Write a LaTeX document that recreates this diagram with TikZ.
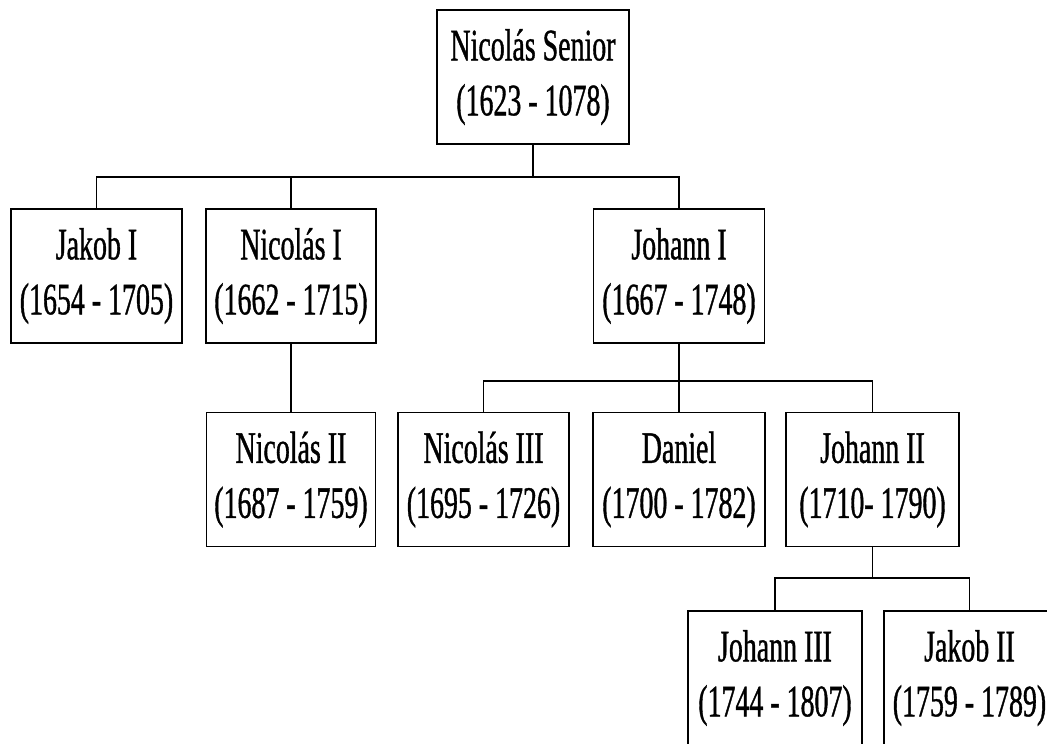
\documentclass[tikz,border=0pt]{standalone}
\usepackage{fontspec}
\setmainfont[FakeStretch=0.62,FakeBold=0.8]{Liberation Serif}
\begin{document}
\begin{tikzpicture}[x=1pt,y=-1pt,
  person/.style={draw=black,line width=1.8pt,fill=white,inner sep=0pt,align=center,
    font=\fontsize{45}{55}\selectfont,minimum height=134pt},
  link/.style={draw=black,line width=1.5pt}]
\clip (0,0) rectangle (1047,744);
\fill[white] (0,0) rectangle (1047,744);
\node[person,minimum width=192pt] (top) at (533,77) {Nicolás Senior\\(1623 - 1078)};
\node[person,minimum width=171pt] (jakob1) at (96.5,276) {Jakob I\\(1654 - 1705)};
\node[person,minimum width=170pt] (nic1) at (291,276) {Nicolás I\\(1662 - 1715)};
\node[person,minimum width=171pt] (johann1) at (679,276) {Johann I\\(1667 - 1748)};
\node[person,minimum width=169pt] (nic2) at (291,479.5) {Nicolás II\\(1687 - 1759)};
\node[person,minimum width=171pt] (nic3) at (483.5,479.5) {Nicolás III\\(1695 - 1726)};
\node[person,minimum width=172pt] (daniel) at (679,479.5) {Daniel\\(1700 - 1782)};
\node[person,minimum width=173pt] (johann2) at (872.5,479.5) {Johann II\\(1710- 1790)};
\node[person,minimum width=174pt] (johann3) at (775,678) {Johann III\\(1744 - 1807)};
\node[person,minimum width=171pt] (jakob2) at (969.5,678) {Jakob II\\(1759 - 1789)};
\coordinate (b1) at (533,177);
\coordinate (b2) at (679,381);
\coordinate (b3) at (872.5,578);
\draw[link] (top.south) -- (b1);
\draw[link] (jakob1.north) |- (b1);
\draw[link] (nic1.north) |- (b1);
\draw[link] (johann1.north) |- (b1);
\draw[link] (nic1.south) -- (nic2.north);
\draw[link] (johann1.south) -- (daniel.north);
\draw[link] (nic3.north) |- (b2);
\draw[link] (johann2.north) |- (b2);
\draw[link] (johann2.south) -- (b3);
\draw[link] (johann3.north) |- (b3);
\draw[link] (jakob2.north) |- (b3);
\end{tikzpicture}
\end{document}
